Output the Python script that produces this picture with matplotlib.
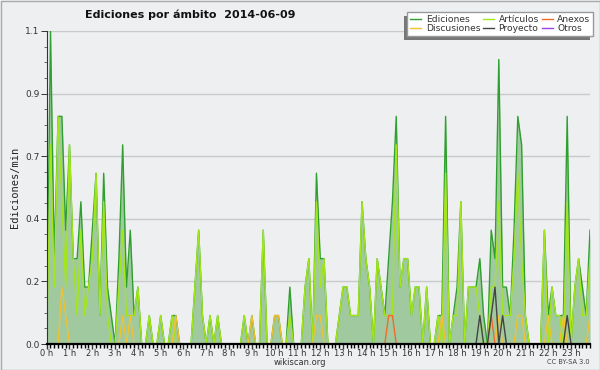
import numpy as np
import matplotlib
matplotlib.use("Agg")
import matplotlib.pyplot as plt
from matplotlib.patches import Rectangle
from matplotlib.ticker import MultipleLocator, FixedLocator, FuncFormatter

# 10-minute samples over the day (hours)
horas = np.arange(144) / 6.0
horas_etiquetas = [f"{h} h" for h in range(24)]

ediciones = [
    0, 1.1, 0.3, 0.8, 0.8, 0.4, 0.7, 0.3, 0.3, 0.5, 0.2, 0.2,
    0.4, 0.6, 0.1, 0.6, 0.2, 0.1, 0, 0.3, 0.7, 0.2, 0.4, 0.1,
    0.2, 0, 0, 0.1, 0, 0, 0.1, 0, 0, 0.1, 0.1, 0,
    0, 0, 0, 0.2, 0.4, 0.1, 0, 0.1, 0, 0.1, 0, 0,
    0, 0, 0, 0, 0.1, 0, 0.1, 0, 0, 0.4, 0, 0,
    0.1, 0.1, 0, 0, 0.2, 0, 0, 0, 0.2, 0.3, 0, 0.6,
    0.3, 0.3, 0, 0, 0, 0.1, 0.2, 0.2, 0.1, 0.1, 0.1, 0.5,
    0.3, 0.2, 0, 0.3, 0.2, 0.1, 0.3, 0.5, 0.8, 0.2, 0.3, 0.3,
    0.1, 0.2, 0.2, 0, 0.2, 0, 0, 0.1, 0.1, 0.8, 0, 0.1,
    0.2, 0.5, 0, 0.2, 0.2, 0.2, 0.3, 0.1, 0, 0.4, 0.3, 1.0,
    0.2, 0.2, 0.1, 0.4, 0.8, 0.7, 0.1, 0, 0, 0, 0, 0.4,
    0.1, 0.2, 0.1, 0.1, 0.1, 0.8, 0, 0.2, 0.3, 0.2, 0.1, 0.4,
]
articulos = [
    0, 0.7, 0.2, 0.8, 0.5, 0.2, 0.7, 0.3, 0.1, 0.4, 0.1, 0.2,
    0.3, 0.6, 0.1, 0.5, 0.1, 0, 0, 0.2, 0.4, 0.1, 0.1, 0.1,
    0.2, 0, 0, 0.1, 0, 0, 0.1, 0, 0, 0.1, 0, 0,
    0, 0, 0, 0.2, 0.4, 0.1, 0, 0.1, 0, 0.1, 0, 0,
    0, 0, 0, 0, 0.1, 0, 0, 0, 0, 0.4, 0, 0,
    0, 0, 0, 0, 0.1, 0, 0, 0, 0.2, 0.3, 0, 0.5,
    0.2, 0.3, 0, 0, 0, 0.1, 0.2, 0.2, 0.1, 0.1, 0.1, 0.5,
    0.3, 0.2, 0, 0.3, 0.2, 0.1, 0.1, 0.1, 0.7, 0.2, 0.3, 0.3,
    0.1, 0.2, 0.2, 0, 0.2, 0, 0, 0.1, 0, 0.6, 0, 0.1,
    0.1, 0.5, 0, 0.2, 0.2, 0.2, 0.1, 0, 0, 0.2, 0.2, 0.5,
    0.1, 0.1, 0.1, 0.3, 0.6, 0.3, 0.1, 0, 0, 0, 0, 0.4,
    0, 0.2, 0.1, 0.1, 0, 0.5, 0, 0.2, 0.3, 0.1, 0.1, 0.3,
]
discusiones = [
    0, 0, 0, 0, 0.2, 0.1, 0, 0, 0, 0, 0, 0,
    0, 0, 0, 0, 0, 0, 0, 0, 0.1, 0, 0.1, 0,
    0, 0, 0, 0, 0, 0, 0, 0, 0, 0, 0.1, 0,
    0, 0, 0, 0, 0, 0, 0, 0, 0, 0, 0, 0,
    0, 0, 0, 0, 0, 0, 0.1, 0, 0, 0, 0, 0,
    0.1, 0.1, 0, 0, 0, 0, 0, 0, 0, 0, 0, 0.1,
    0.1, 0, 0, 0, 0, 0, 0, 0, 0, 0, 0, 0,
    0, 0, 0, 0, 0, 0, 0, 0, 0, 0, 0, 0,
    0, 0, 0, 0, 0, 0, 0, 0, 0.1, 0, 0, 0,
    0, 0, 0, 0, 0, 0, 0, 0, 0, 0, 0, 0.1,
    0, 0, 0, 0, 0.1, 0.1, 0, 0, 0, 0, 0, 0,
    0.1, 0, 0, 0, 0.1, 0, 0, 0, 0, 0, 0, 0.1,
]
anexos = [
    0, 0, 0, 0, 0, 0, 0, 0, 0, 0, 0, 0,
    0, 0, 0, 0, 0, 0, 0, 0, 0, 0, 0, 0,
    0, 0, 0, 0, 0, 0, 0, 0, 0, 0, 0, 0,
    0, 0, 0, 0, 0, 0, 0, 0, 0, 0, 0, 0,
    0, 0, 0, 0, 0, 0, 0, 0, 0, 0, 0, 0,
    0, 0, 0, 0, 0, 0, 0, 0, 0, 0, 0, 0,
    0, 0, 0, 0, 0, 0, 0, 0, 0, 0, 0, 0,
    0, 0, 0, 0, 0, 0, 0.1, 0.1, 0, 0, 0, 0,
    0, 0, 0, 0, 0, 0, 0, 0, 0, 0, 0, 0,
    0, 0, 0, 0, 0, 0, 0, 0, 0, 0.1, 0, 0,
    0, 0, 0, 0, 0, 0, 0, 0, 0, 0, 0, 0,
    0, 0, 0, 0, 0, 0, 0, 0, 0, 0, 0, 0,
]
proyecto = [
    0, 0, 0, 0, 0, 0, 0, 0, 0, 0, 0, 0,
    0, 0, 0, 0, 0, 0, 0, 0, 0, 0, 0, 0,
    0, 0, 0, 0, 0, 0, 0, 0, 0, 0, 0, 0,
    0, 0, 0, 0, 0, 0, 0, 0, 0, 0, 0, 0,
    0, 0, 0, 0, 0, 0, 0, 0, 0, 0, 0, 0,
    0, 0, 0, 0, 0, 0, 0, 0, 0, 0, 0, 0,
    0, 0, 0, 0, 0, 0, 0, 0, 0, 0, 0, 0,
    0, 0, 0, 0, 0, 0, 0, 0, 0, 0, 0, 0,
    0, 0, 0, 0, 0, 0, 0, 0, 0, 0, 0, 0,
    0, 0, 0, 0, 0, 0, 0.1, 0, 0, 0.1, 0.2, 0,
    0.1, 0, 0, 0, 0, 0, 0, 0, 0, 0, 0, 0,
    0, 0, 0, 0, 0, 0.1, 0, 0, 0, 0, 0, 0,
]
otros = [0] * 144

BG = "#EEEFF1"
fig = plt.figure(figsize=(6, 3.7), dpi=100)
fig.patch.set_facecolor(BG)
ax = fig.add_axes([46.7 / 600, 26 / 370, (590 - 46.7) / 600, 313 / 370])
ax.set_facecolor(BG)

ax.fill_between(horas, ediciones, 0, color="#A0C9A0", linewidth=0, zorder=1.5)
series = [
    ("Ediciones", ediciones, "#2FA02F"),
    ("Discusiones", discusiones, "#F2C12E"),
    ("Artículos", articulos, "#A3E619"),
    ("Proyecto", proyecto, "#444444"),
    ("Anexos", anexos, "#F2692A"),
    ("Otros", otros, "#9B3FE8"),
]
order = ["Ediciones", "Artículos", "Discusiones", "Anexos", "Proyecto", "Otros"]
lines = {}
for name, vals, col in series:
    lines[name], = ax.plot(horas, vals, color=col, linewidth=1.0, label=name)
for k, name in enumerate(order):
    lines[name].set_zorder(2 + k * 0.05)

ymax = 1.1
ax.set_ylim(0, ymax)
ax.set_xlim(horas[0], horas[-1])
ax.yaxis.set_major_locator(FixedLocator(np.linspace(0, ymax, 6)))
ax.yaxis.set_minor_locator(FixedLocator(np.linspace(0, ymax, 21)))
ax.yaxis.set_major_formatter(FuncFormatter(lambda v, p: f"{v:.1f}"))
ax.xaxis.set_major_locator(FixedLocator(range(24)))
ax.xaxis.set_major_formatter(FuncFormatter(lambda v, p: horas_etiquetas[int(round(v))] if 0 <= round(v) < 24 else ""))
ax.xaxis.set_minor_locator(MultipleLocator(1 / 6))
ax.grid(axis="y", color="#C9C9C9", linewidth=1.0, zorder=0)
ax.set_axisbelow(True)

for s in ["top", "right"]:
    ax.spines[s].set_visible(False)
ax.spines["bottom"].set_linewidth(1.6)
ax.spines["left"].set_linewidth(0.8)
ax.spines["left"].set_color("#333333")
ax.tick_params(axis="x", which="major", length=3.5, width=1, pad=0, labelsize=6, colors="#333333")
ax.tick_params(axis="x", which="minor", length=3, width=1, colors="black")
ax.tick_params(axis="y", which="major", length=4, width=0.7, pad=1, labelsize=6.5, colors="#333333")
ax.tick_params(axis="y", which="minor", length=2, width=0.6, colors="#555555")

ax.set_ylabel("Ediciones/min", family="DejaVu Sans Mono", fontsize=7.5, color="#222222", labelpad=4)

fig.text(85 / 600, 1 - 15 / 370, "Ediciones por ámbito  2014-06-09", fontsize=8, fontweight="bold",
         ha="left", va="center", color="#111111")
fig.text(0.5, 1 - 362.5 / 370, "wikiscan.org", fontsize=6, ha="center", va="center", color="#333333")
fig.text(590 / 600, 1 - 362.5 / 370, "CC BY-SA 3.0", fontsize=4.8, ha="right", va="center", color="#444444")

handles = [lines[n] for n in ["Ediciones", "Discusiones", "Artículos", "Proyecto", "Anexos", "Otros"]]
leg = fig.legend(handles=handles, loc="upper right", bbox_to_anchor=(593 / 600, 1 - 12 / 370), ncol=3,
                 fontsize=6.6, frameon=True, fancybox=False, edgecolor="#999999", facecolor="white",
                 framealpha=1, handlelength=1.2, handletextpad=0.5, columnspacing=0.3,
                 labelspacing=0.05, borderpad=0.3, borderaxespad=0)
for t in leg.get_texts():
    t.set_color("#333333")
leg.set_zorder(6)

fig.canvas.draw()
bb = leg.get_window_extent()
shadow = Rectangle((bb.x0 - 3, bb.y0 - 4), bb.width, bb.height, transform=None,
                   facecolor="#777777", edgecolor="none", zorder=5)
fig.patches.append(shadow)
fig.add_artist(Rectangle((0.5, 0.5), 599, 369, transform=None, facecolor="none",
                         edgecolor="#AAAAAA", linewidth=1, zorder=10))

fig.savefig("out.png", dpi=100, facecolor=BG)
